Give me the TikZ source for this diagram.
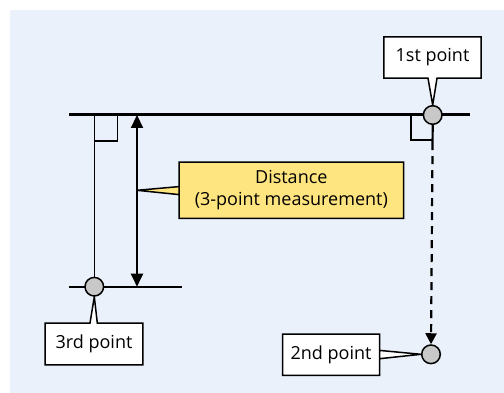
\documentclass[tikz,border=0pt]{standalone}
\usepackage{fontspec}
\setmainfont{Open Sans}
\usetikzlibrary{arrows.meta}
\definecolor{panel}{HTML}{EAF1FB}
\definecolor{dot}{HTML}{C8C8C8}
\definecolor{note}{HTML}{FFE57F}
\pgfdeclarelayer{panel}
\pgfdeclarelayer{boxes}
\pgfsetlayers{panel,boxes,main}
\tikzset{
  lbl/.style={inner sep=0pt, font=\fontsize{18}{21.7}\selectfont, align=center},
  callout/.style={draw=black, line width=1.5pt, line join=miter},
  dotpt/.style={circle, draw=black, line width=1.5pt, fill=dot, minimum size=18.6pt, inner sep=0pt},
  thinline/.style={line width=1.6pt},
  bigtip/.tip={Triangle[width=12pt,length=13pt]},
  smalltip/.tip={Triangle[width=11pt,length=11pt]},
}
\begin{document}
\begin{tikzpicture}[x=1pt,y=-1pt]
\useasboundingbox (0,0) rectangle (504,393);
\begin{pgfonlayer}{panel}
\fill[panel] (10,10) rectangle (504,393);
\end{pgfonlayer}

% points on the lines
\coordinate (p1) at (432.7,115);
\coordinate (p2) at (431,354.3);
\coordinate (p3) at (94.3,286.7);

% reference lines
\coordinate (topL) at (69,115);
\coordinate (topR) at (470,115);
\coordinate (botL) at (69,286.7);
\coordinate (botR) at (181.7,286.7);
\draw[line width=3pt] (topL) -- (topR);
\draw[thinline] (botL) -- (botR);

% perpendicular from the 3rd point and right-angle marks
\coordinate (foot3) at (94.3,115);
\draw[thinline] (p3) -- (foot3);
\draw[thinline] (94.3,141.3) -- (117.3,141.3) -- (117.3,115);
\draw[thinline] (410.7,115) -- (410.7,140) -- (432.7,140);

% distance arrow
\coordinate (dTop) at (137,115);
\coordinate (dBot) at (137,286.7);
\coordinate (dMid) at (137,190.3);
\draw[line width=2.2pt, bigtip-bigtip] (dTop) -- (dBot);

% label texts
\node[lbl, minimum width=97pt, minimum height=41pt] (t1) at (432.5,57.5) {1st point};
\node[lbl, minimum width=96.6pt, minimum height=40.7pt] (t2) at (331,354.7) {2nd point};
\node[lbl, minimum width=97.4pt, minimum height=41.4pt] (t3) at (94,344) {3rd point};
\node[lbl, minimum width=224pt, minimum height=56pt] (td) at (291.3,190.3) {Distance\\(3-point measurement)};

% point markers
\node[dotpt] (c1) at (p1) {};
\node[dotpt] (c2) at (p2) {};
\node[dotpt] (c3) at (p3) {};

% dashed projection from the 1st point down to the 2nd point
\draw[line width=2.2pt, dash pattern=on 25pt off 6pt on 8pt off 6pt on 8pt off 6pt on 8pt off 6pt on 8pt off 6pt on 8pt off 6pt on 8pt off 6pt on 8pt off 6pt on 8pt off 6pt on 8pt off 6pt on 8pt off 6pt on 8pt off 6pt on 8pt off 6pt on 8pt off 6pt, -smalltip] (c1.south) -- (c2.north);

% callout outlines with pointers, behind the texts
\begin{pgfonlayer}{boxes}
\filldraw[callout, fill=white] (t1.south west) -- ([xshift=-4.5pt]t1.south) -- (c1.north) -- ([xshift=4.5pt]t1.south) -- (t1.south east) -- (t1.north east) -- (t1.north west) -- cycle;
\filldraw[callout, fill=white] (t3.north west) -- ([xshift=-4pt]t3.north) -- (c3.south) -- ([xshift=3.3pt]t3.north) -- (t3.north east) -- (t3.south east) -- (t3.south west) -- cycle;
\filldraw[callout, fill=white] (t2.north east) -- ([yshift=-4pt]t2.east) -- (c2.west) -- ([yshift=4.3pt]t2.east) -- (t2.south east) -- (t2.south west) -- (t2.north west) -- cycle;
\filldraw[callout, fill=note] (td.north west) -- ([yshift=-4.3pt]td.west) -- (dMid) -- ([yshift=3.7pt]td.west) -- (td.south west) -- (td.south east) -- (td.north east) -- cycle;
\end{pgfonlayer}
\end{tikzpicture}
\end{document}
